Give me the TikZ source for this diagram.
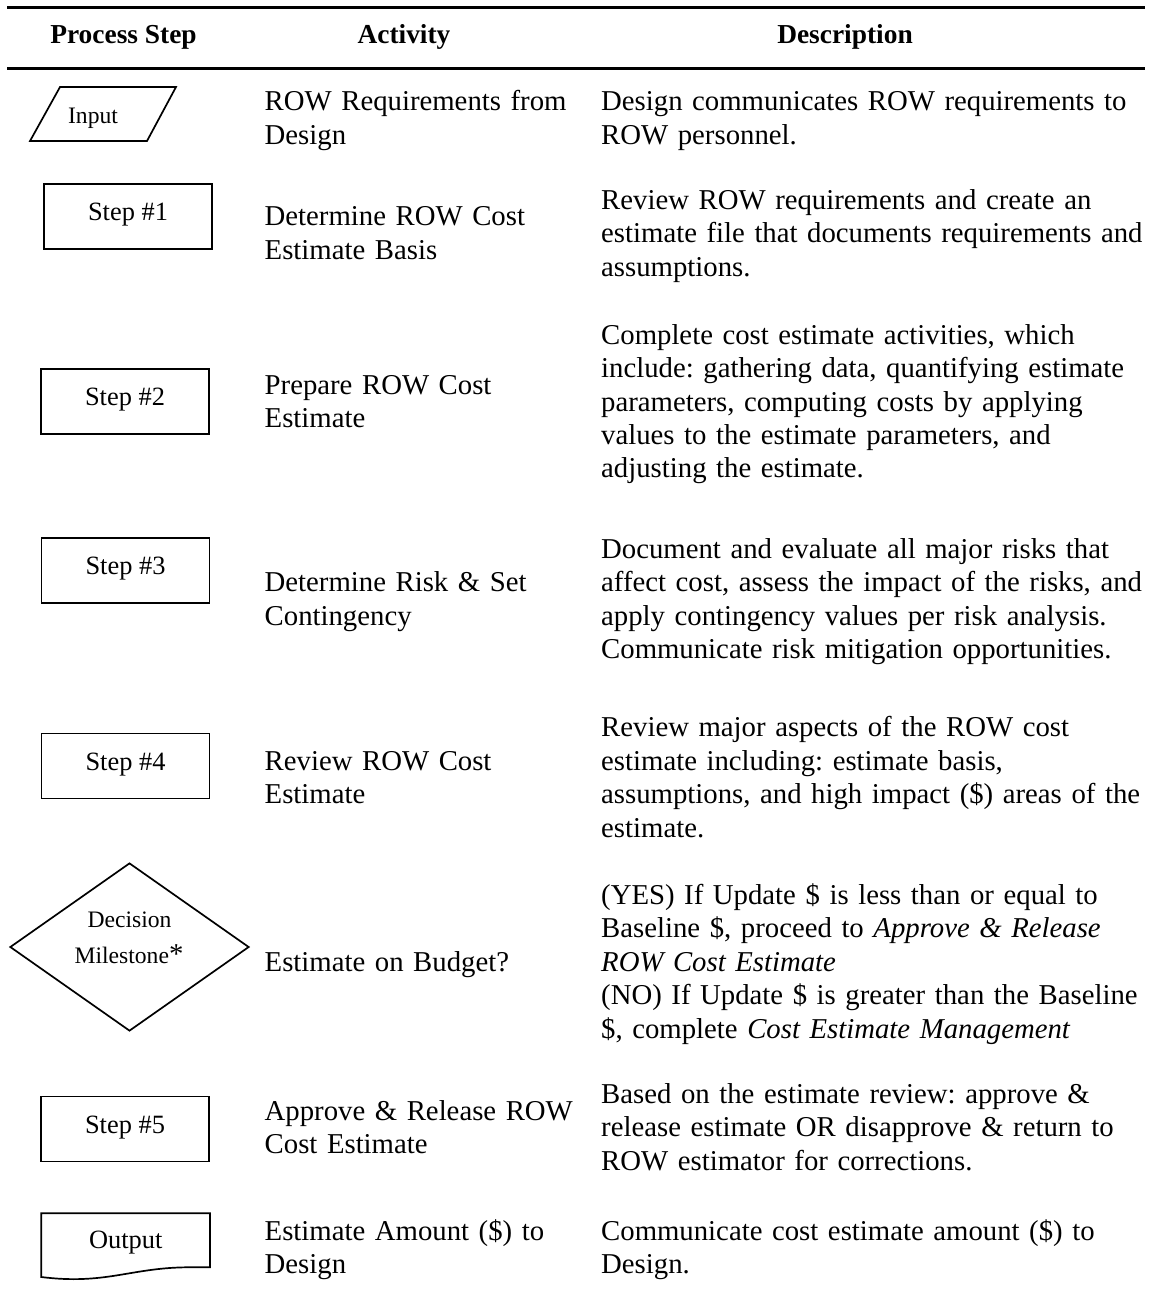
\documentclass[tikz,border=0pt]{standalone}
\usepackage{fontspec}
\setmainfont{Liberation Serif}
\usetikzlibrary{shapes.geometric}
\frenchspacing

% type sizes used in the table
\newcommand\bodysize{\fontsize{28.75}{33.4}\selectfont}
\newcommand\headsize{\fontsize{27.4}{31}\selectfont\bfseries}
\newcommand\boxsize{\fontsize{26.4}{30}\selectfont}
\newcommand\smallsize{\fontsize{23.6}{27}\selectfont}

\begin{document}
\begin{tikzpicture}[x=1pt,y=-1pt,
  rule/.style={line width=2.6pt},
  outline/.style={draw, line width=1.7pt},
  stepbox/.style={outline, rectangle, minimum width=168pt, minimum height=65pt,
    inner sep=0pt, font=\boxsize, text height=8pt, text depth=0pt},
  head/.style={anchor=base, inner sep=0pt, font=\headsize},
  shapelabel/.style={anchor=base, inner sep=0pt},
  cell/.style={anchor=north west, yshift=23.38pt, inner sep=0pt, align=left,
    font=\bodysize, execute at begin node=\strut},
  activity/.style={cell, text width=330pt},
  descr/.style={cell, text width=600pt},
]
\fill[white] (0,0) rectangle (1151,1293);
\useasboundingbox (0,0) rectangle (1151,1293);

% header rules and column titles
\draw[rule] (7,7.3) -- (1145,7.3);
\draw[rule] (7,68.2) -- (1145,68.2);
\node[head] (hstep) at (123.5,43.3) {Process Step};
\node[head] (hact)  at (404,43.3) {Activity};
\node[head] (hdesc) at (845,43.3) {Description};

% process step symbols
\draw[outline] (60,87) -- (176,87) -- (147,141) -- (30,141) -- cycle;
\node[shapelabel, font=\smallsize] (input) at (93,123) {Input};

\node[stepbox] (s1) at (128,216.5) {Step \#1};
\node[stepbox] (s2) at (125,401.5) {Step \#2};
\node[stepbox] (s3) at (125.5,570.8) {Step \#3};
\node[stepbox] (s4) at (125.5,766) {Step \#4};

\node[outline, diamond, minimum width=239pt, minimum height=168pt, inner sep=0pt]
  (dec) at (129.5,947) {};
\node[shapelabel, font=\smallsize] (decA) at (129.5,927.3) {Decision};
\node[shapelabel, font=\smallsize] (decB) at (129,963.3) {Milestone{\bodysize*}};

\node[stepbox] (s5) at (125,1129) {Step \#5};

\draw[outline] (41.3,1213.3) -- (210,1213.3) -- (210,1267.3) -- (186,1267.3)
  .. controls (130,1268) and (105,1285) .. (41.3,1277) -- cycle;
\node[shapelabel, font=\boxsize] (output) at (125.8,1248.3) {Output};

% activity column
\node[activity] (a0) at (264.5,110.7) {ROW Requirements from\\Design};
\node[activity] (a1) at (264.5,225.6) {Determine ROW Cost\\Estimate Basis};
\node[activity] (a2) at (264.5,394) {Prepare ROW Cost\\Estimate};
\node[activity] (a3) at (264.5,591.7) {Determine Risk \& Set\\Contingency};
\node[activity] (a4) at (264.5,770) {Review ROW Cost\\Estimate};
\node[activity] (a5) at (264.5,971) {Estimate on Budget?};
\node[activity] (a6) at (264.5,1120.3) {Approve \& Release ROW\\Cost Estimate};
\node[activity] (a7) at (264.5,1240) {Estimate Amount (\$) to\\Design};

% description column
\node[descr] (d0) at (601,110.7) {Design communicates ROW requirements to\\ROW personnel.};
\node[descr] (d1) at (601,209) {Review ROW requirements and create an\\estimate file that documents requirements and\\assumptions.};
\node[descr] (d2) at (601,344) {Complete cost estimate activities, which\\include: gathering data, quantifying estimate\\parameters, computing costs by applying\\values to the estimate parameters, and\\adjusting the estimate.};
\node[descr] (d3) at (601,558.3) {Document and evaluate all major risks that\\affect cost, assess the impact of the risks, and\\apply contingency values per risk analysis.\\Communicate risk mitigation opportunities.};
\node[descr] (d4) at (601,736.7) {Review major aspects of the ROW cost\\estimate including: estimate basis,\\assumptions, and high impact (\$) areas of the\\estimate.};
\node[descr] (d5) at (601,904.3) {(YES) If Update \$ is less than or equal to\\Baseline \$, proceed to \textit{Approve \& Release}\\\textit{ROW Cost Estimate}\\(NO) If Update \$ is greater than the Baseline\\\$, complete \textit{Cost Estimate Management}};
\node[descr] (d6) at (601,1103.3) {Based on the estimate review: approve \&\\release estimate OR disapprove \& return to\\ROW estimator for corrections.};
\node[descr] (d7) at (601,1240) {Communicate cost estimate amount (\$) to\\Design.};
\end{tikzpicture}
\end{document}
